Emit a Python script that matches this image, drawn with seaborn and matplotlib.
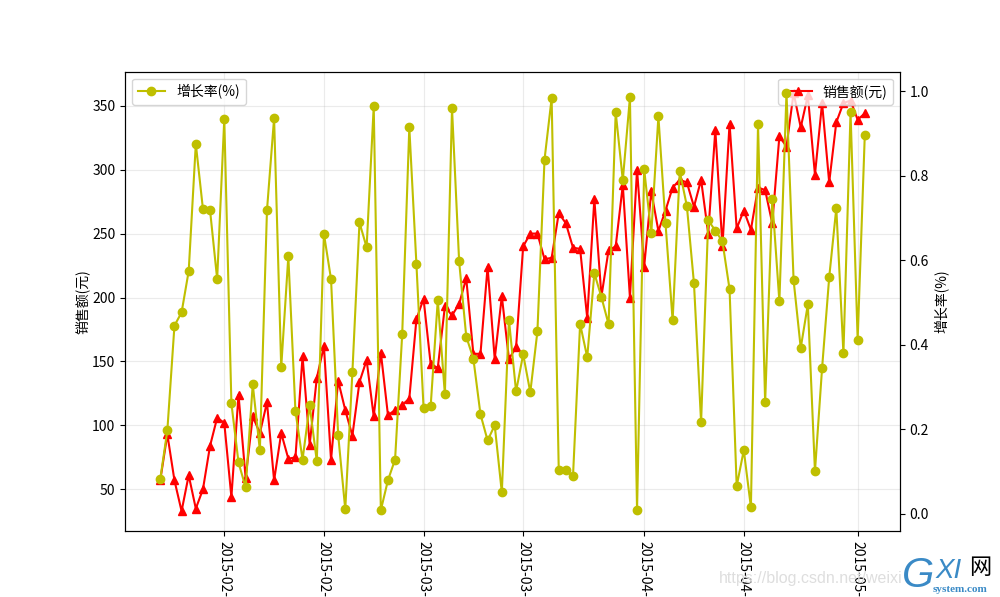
import matplotlib.pyplot as plt
import matplotlib.dates as mdates
import pandas as pd
import seaborn as sns

# daily values
START_DATE = "2015-01-23"
sales = [
    57, 93, 57, 33, 61, 35, 50, 84, 106, 102,
    44, 124, 59, 107, 94, 118, 57, 94, 74, 75,
    154, 85, 137, 162, 73, 135, 112, 92, 134, 151,
    107, 157, 108, 112, 116, 121, 183, 199, 148, 145,
    193, 186, 195, 215, 156, 156, 224, 152, 201, 152,
    161, 240, 250, 250, 230, 231, 266, 258, 239, 238,
    184, 277, 201, 237, 240, 288, 200, 300, 224, 283,
    252, 268, 286, 292, 290, 271, 292, 250, 331, 240,
    336, 254, 268, 253, 286, 284, 258, 326, 318, 360,
    333, 358, 296, 352, 290, 337, 352, 354, 339, 344,
]
growth = [
    0.081, 0.197, 0.445, 0.476, 0.574, 0.875, 0.721, 0.718, 0.555, 0.934,
    0.261, 0.121, 0.062, 0.306, 0.150, 0.718, 0.936, 0.346, 0.609, 0.242,
    0.128, 0.256, 0.124, 0.662, 0.555, 0.187, 0.010, 0.334, 0.689, 0.630,
    0.964, 0.008, 0.079, 0.128, 0.424, 0.914, 0.590, 0.251, 0.254, 0.505,
    0.282, 0.959, 0.597, 0.419, 0.367, 0.235, 0.173, 0.209, 0.050, 0.459,
    0.289, 0.377, 0.287, 0.431, 0.838, 0.983, 0.102, 0.102, 0.088, 0.449,
    0.370, 0.569, 0.512, 0.448, 0.950, 0.789, 0.985, 0.008, 0.815, 0.663,
    0.940, 0.687, 0.457, 0.810, 0.728, 0.545, 0.216, 0.694, 0.670, 0.644,
    0.531, 0.065, 0.150, 0.015, 0.921, 0.263, 0.744, 0.502, 0.995, 0.552,
    0.392, 0.495, 0.100, 0.344, 0.559, 0.723, 0.379, 0.950, 0.412, 0.895,
]
dates = pd.date_range(START_DATE, periods=len(sales), freq="D")

plt.rcParams["font.family"] = ["Noto Sans CJK SC", "DejaVu Sans"]
plt.rcParams["axes.unicode_minus"] = False

fig, ax = plt.subplots(figsize=(10, 5.97), dpi=100)

# sales on the left axis
sns.lineplot(x=dates, y=sales, color="r", marker="^", markersize=6,
             markeredgecolor="r", markeredgewidth=1, label="销售额(元)", ax=ax)
ax.set_ylabel("销售额(元)", fontsize=10, labelpad=2)
ax.set_ylim(17.2, 376.6)
ax.legend(loc="upper right")
ax.grid(True, alpha=0.25)
ax.set_axisbelow(True)

# growth rate on the right axis
ax2 = ax.twinx()
sns.lineplot(x=dates, y=growth, color="y", marker="o", markersize=6,
             markeredgecolor="y", markeredgewidth=1, label="增长率(%)", ax=ax2)
ax2.set_ylabel("增长率(%)", fontsize=10)
ax2.set_ylim(-0.042, 1.046)
ax2.legend(loc="upper left")

# only the year and month part of the dates fits above the bottom edge
ax.xaxis.set_major_locator(mdates.DayLocator(bymonthday=[1, 15]))
ax.xaxis.set_major_formatter(mdates.DateFormatter("%Y-%m-"))
ax.tick_params(axis="x", labelrotation=-90)
ax.set_xlabel("")

# image host watermark and logo at the bottom edge
fig.text(719 / 1000, 1 - 578 / 597, "https://blog.csdn.net/weixi", color="#dedede",
         fontsize=11.5, family="Liberation Sans", va="center")
fig.text(902 / 1000, 0.002, "G", color="#3a8ac6", fontsize=30, style="italic",
         family="Liberation Sans", va="bottom")
fig.text(936 / 1000, 1 - 578 / 597, "XI", color="#3a8ac6", fontsize=20, style="italic",
         family="Liberation Sans", va="baseline")
fig.text(969 / 1000, 1 - 568 / 597, "网", color="black", fontsize=16, va="center")
fig.text(933 / 1000, 1 - 589 / 597, "system.com", color="#3a8ac6", fontsize=8,
         weight="bold", family="Liberation Serif", va="center")

fig.savefig("out.png")
